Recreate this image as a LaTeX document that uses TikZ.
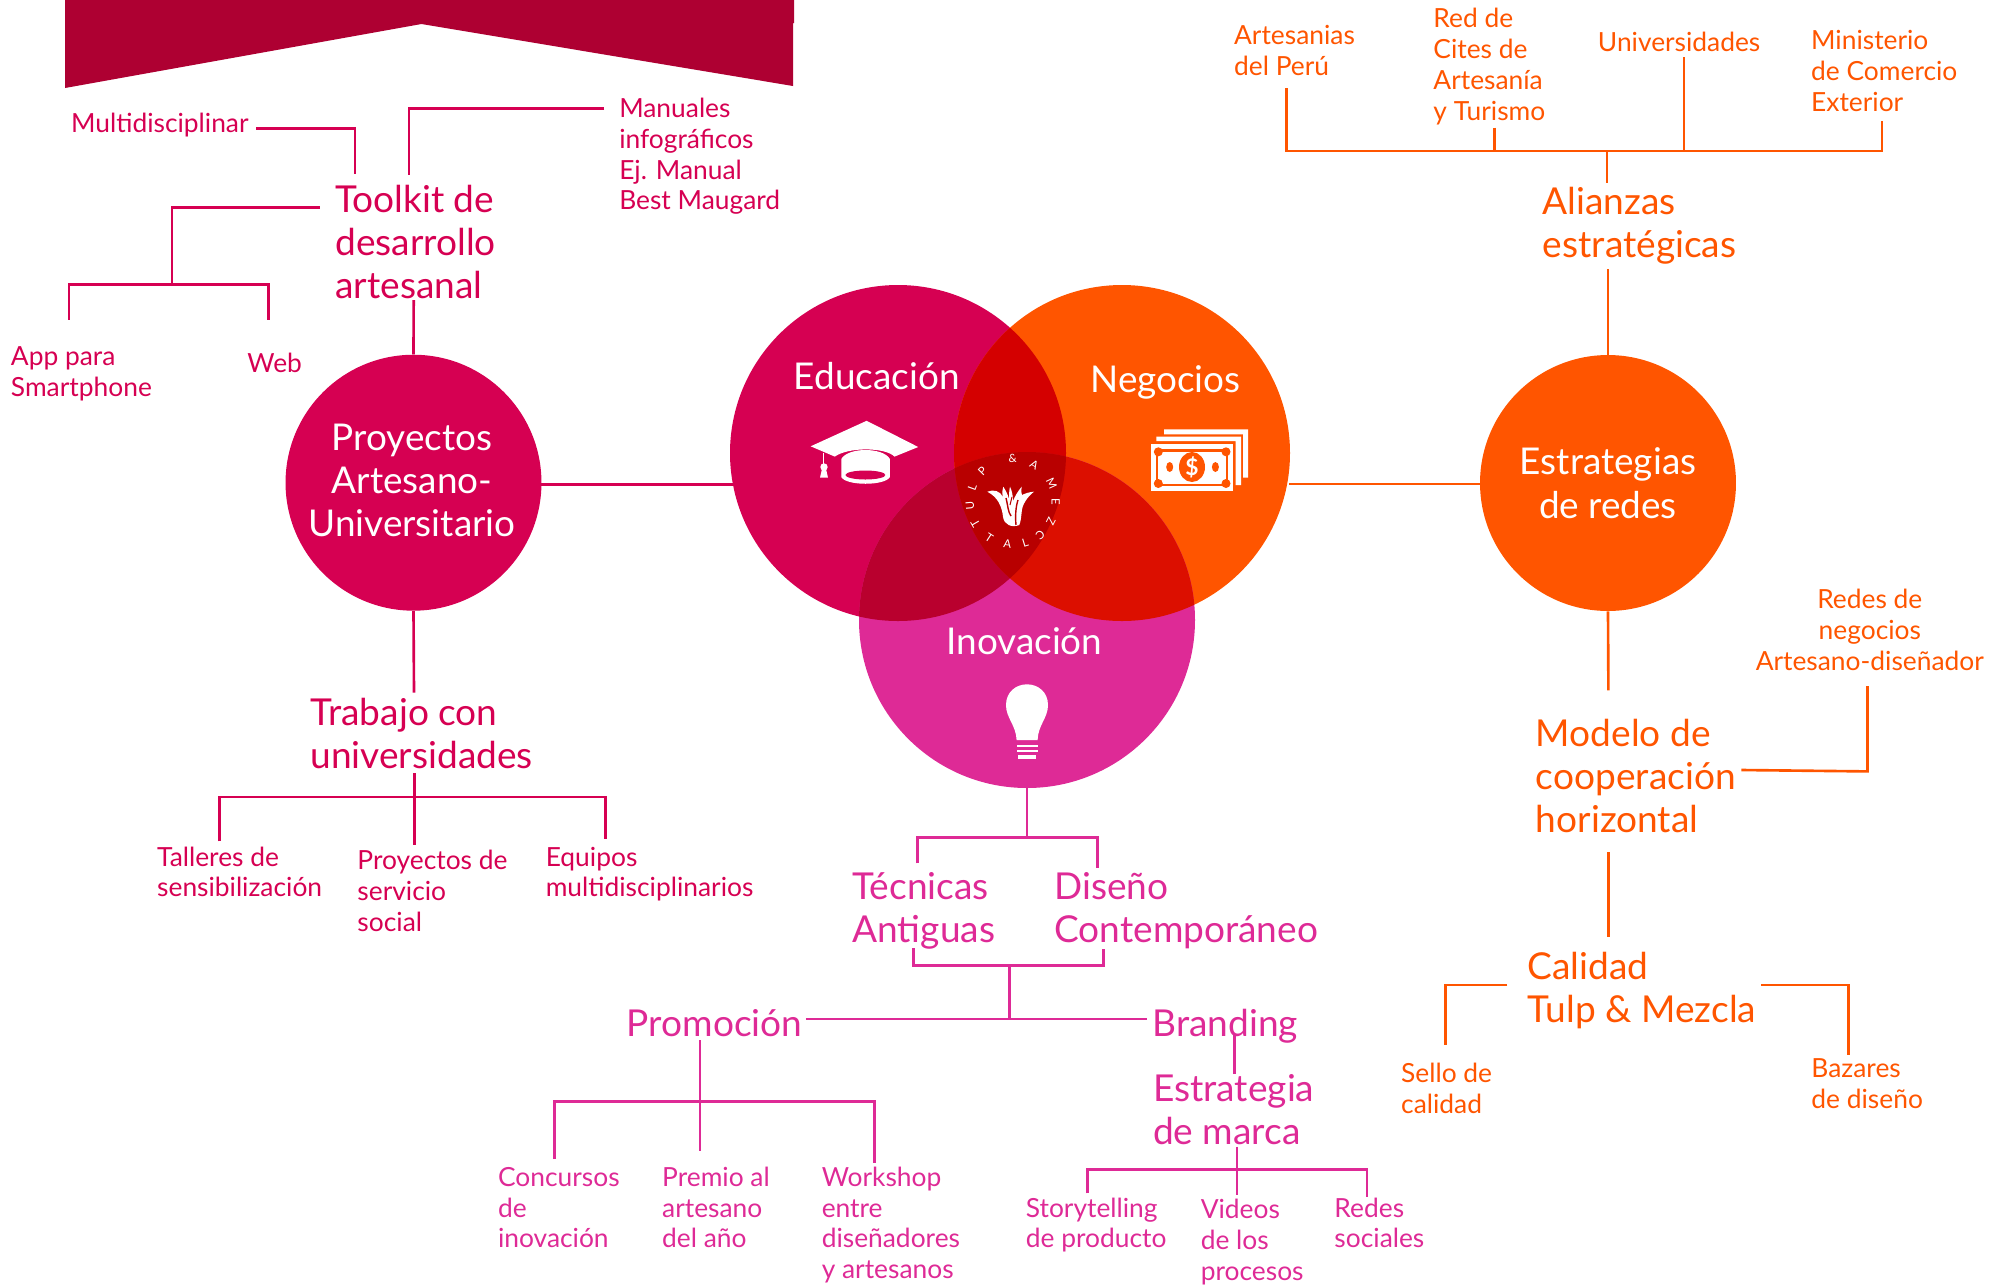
\documentclass[tikz,border=0pt]{standalone}
\usepackage{fontspec}
\setmainfont{Lato}
\definecolor{banner}{HTML}{AE0032}
\definecolor{pinkline}{HTML}{D60052}
\definecolor{orangeline}{HTML}{FF5500}
\definecolor{magentaline}{HTML}{DE2A96}
\definecolor{center}{HTML}{B80000}
\tikzset{big/.style = {anchor = base west, inner sep = 0, align = left, xshift = -0.5pt, yshift = -1.4pt, font = \fontsize{21.1}{24.5}\selectfont}}
\tikzset{small/.style = {anchor = base west, inner sep = 0, align = left, xshift = -0.5pt, yshift = -0.7pt, font = \fontsize{15}{17.5}\selectfont}}
\tikzset{title/.style = {anchor = base, inner sep = 0, text = white, align = center, font = \fontsize{21}{24.5}\selectfont}}
\tikzset{disc/.style = {circle, inner sep = 0, minimum size = 5.12cm}}
\tikzset{rama/.style = {line width = 1.5pt}}
\begin{document}
\begin{tikzpicture}[x=0.02cm, y=-0.02cm]
    \useasboundingbox (0, 0) rectangle (2009, 1286);
    \fill [banner] (65, 0) -- (794, 0) -- (794, 23) -- (793, 23) -- (793, 86) -- (421.5, 24) -- (65, 88) -- cycle;

    % Venn circles
    \fill [pinkline] (898, 453) circle [radius=168];
    \fill [orangeline] (1122, 453) circle [radius=168];
    \fill [magentaline] (1027, 620) circle [radius=168];
    \begin{scope}
        \clip (898, 453) circle [radius=168];
        \fill [color={rgb,255:red,212;green,0;blue,0}] (1122, 453) circle [radius=168];
        \fill [color={rgb,255:red,185;green,0;blue,46}] (1027, 620) circle [radius=168];
    \end{scope}
    \begin{scope}
        \clip (1122, 453) circle [radius=168];
        \fill [color={rgb,255:red,220;green,15;blue,0}] (1027, 620) circle [radius=168];
        \clip (898, 453) circle [radius=168];
        \fill [center] (1027, 620) circle [radius=168];
    \end{scope}
    \node [title] (educacion) at (876.7, 389.2) {Educación};
    \node [title] (negocios) at (1165.5, 392) {Negocios};
    \node [title] (inovacion) at (1024.4, 654.7) {Inovación};

    % Cap
    \fill [white] (866.6, 420.8) -- (918.2, 447) -- (894.5, 456.6) .. controls (885, 447) and (848, 447) .. (834.8, 456.6) -- (810.7, 446.3) -- cycle;
    \fill [white] (841.3, 459) .. controls (848, 447) and (883, 447) .. (889.9, 459) -- (889.9, 477) .. controls (885, 486) and (846, 486) .. (841.3, 477) -- cycle;
    \fill [pinkline] (865.4, 475) ellipse [x radius=20, y radius=4.5];
    \draw [white, line width=0.7pt] (823.3, 452.5) -- (823.3, 470);
    \fill [white] (824, 467) circle [radius=3.7];
    \fill [white] (822, 469) -- (826, 469) -- (828, 477.6) -- (820, 477.6) -- cycle;

    % Money
    \fill [white] (1156.3, 441.1) -- (1156.3, 436.7) -- (1241.2, 436.7) -- (1241.2, 485.2) -- (1235.5, 485.2) -- (1235.5, 441.1) -- cycle;
    \fill [white] (1164, 434.3) -- (1164, 429.4) -- (1248.2, 429.4) -- (1248.2, 477.6) -- (1243.2, 477.6) -- (1243.2, 434.3) -- cycle;
    \fill [white] (1151, 444) rectangle (1232.8, 490.5);
    \fill [orangeline] (1155.6, 449) rectangle (1228.2, 486.3);
    \fill [white] (1158.3, 451.8) rectangle (1226, 483.5);
    \foreach \bx in {1158.3, 1226} \foreach \by in {451.8, 483.5}
        \fill [orangeline] (\bx, \by) circle [radius=4.5];
    \fill [orangeline] (1192, 467) ellipse [x radius=13, y radius=15];
    \foreach \bx in {1169.7, 1215.4}
        \fill [orangeline] (\bx, 467) ellipse [x radius=3.5, y radius=5];
    \node [inner sep=0, text=white, font=\fontsize{13}{13}\selectfont\bfseries] (dolar) at (1192, 467) {\$};

    % Bulb
    \fill [white] (1016.6, 740) .. controls (1016, 725) and (1006, 718) .. (1006, 705) .. controls (1006, 692) and (1016, 684.3) .. (1027, 684.3) .. controls (1038, 684.3) and (1048, 692) .. (1048, 705) .. controls (1048, 718) and (1038, 725) .. (1037.6, 740) -- cycle;
    \fill [white] (1016.6, 744.5) rectangle (1037.6, 747.3);
    \fill [white] (1016.6, 749.7) rectangle (1037.6, 752.4);
    \fill [white] (1018, 754.5) rectangle (1036, 759);

    % Logo
    \fill [white] (987.3, 491.7) .. controls (994, 489) and (1000, 491) .. (1003, 497) .. controls (1002, 493) and (1002, 490) .. (1003.3, 486.7) .. controls (1006, 491) and (1008, 495) .. (1009, 499) .. controls (1009, 495) and (1009, 491) .. (1010, 486.7) .. controls (1012, 491) and (1013, 496) .. (1013, 501) .. controls (1015, 496) and (1018, 491) .. (1021.7, 486.7) .. controls (1021, 490) and (1021, 493) .. (1022, 495) .. controls (1026, 493) and (1030, 492) .. (1034, 491.7) .. controls (1027, 497) and (1022, 505) .. (1021.7, 512) .. controls (1021, 517) and (1021, 521) .. (1019.3, 525) .. controls (1012, 528) and (1004, 525) .. (1003, 516.7) .. controls (1002, 507) and (998, 497) .. (987.3, 491.7) -- cycle;
    \draw [center, line width=0.8pt] (1006, 498) .. controls (1008, 506) and (1008, 512) .. (1011, 516);
    \draw [center, line width=0.8pt] (1018, 500) .. controls (1016, 506) and (1015, 515) .. (1016, 525);
    \draw [center, line width=0.6pt] (1012, 497) -- (1010, 505);
    \foreach \ang/\rot/\letra in {210/120/T, 185/95/U, 160/70/L, 135/45/P, 90/0/\&, 60/-30/A, 25/-65/M, 0/-90/E, -27/-117/Z, -50/-140/C, -73/17/L, -97/-7/A, -123/-33/T}
        \node [inner sep=0, text=white, rotate=\rot, font=\fontsize{6.5}{7}\selectfont] at ([shift={({0-\ang}:43)}] 1012.7, 501.7) {\letra};

    % Side discs
    \node [disc, fill=pinkline] (proyectos) at (413.5, 482.7) {};
    \node [disc, fill=orangeline] (redes) at (1608, 483) {};
    \node [title] (proyectostxt) at (412, 536.3) {Proyectos\\Artesano-\\Universitario};
    \node [title] (redestxt) at (1608, 518) {Estrategias\\de redes};

    % Left branch
    \node [big, text=pinkline] (toolkit) at (335.8, 295.7) {Toolkit de\\desarrollo\\artesanal};
    \node [small, text=pinkline] (multi) at (71.6, 131.7) {Multidisciplinar};
    \node [small, text=pinkline] (manuales) at (619.8, 208.7) {Manuales\\infográficos\\Ej. Manual\\Best Maugard};
    \node [small, text=pinkline] (app) at (11.5, 395) {App para\\Smartphone};
    \node [small, text=pinkline] (web) at (248, 371.7) {Web};
    \node [big, text=pinkline] (trabajo) at (311, 765.7) {Trabajo con\\universidades};
    \node [small, text=pinkline] (talleres) at (157.7, 895.7) {Talleres de\\sensibilización};
    \node [small, text=pinkline] (servicio) at (358, 930) {Proyectos de\\servicio\\social};
    \node [small, text=pinkline] (equipos) at (546.3, 895.7) {Equipos\\multidisciplinarios};
    \begin{scope}[rama, pinkline]
        \draw (256, 128.3) -- (355, 128.3) -- (355, 173.7);
        \draw (604, 108.3) -- (409, 108.3) -- (409, 174.7);
        \draw (319.6, 207.3) -- (172, 207.3) -- (172, 284.3);
        \draw (69, 319.7) -- (69, 284.3) -- (268.3, 284.3) -- (268.3, 319.7);
        \draw (413.7, 300) -- (proyectos.north);
        \draw (proyectos.south) -- (414, 692.7);
        \draw (414.4, 773.3) -- (414.4, 845);
        \draw (219.4, 841.3) -- (219.4, 797) -- (605.5, 797) -- (605.5, 839.3);
        \draw (541, 484.3) -- (733, 484.3);
    \end{scope}

    % Right branch
    \node [big, text=orangeline] (alianzas) at (1543.4, 254.7) {Alianzas\\estratégicas};
    \node [small, text=orangeline] (artesanias) at (1234.7, 74) {Artesanias\\del Perú};
    \node [small, text=orangeline] (cites) at (1434, 119) {Red de\\Cites de\\Artesanía\\y Turismo};
    \node [small, text=orangeline] (univ) at (1598.5, 50) {Universidades};
    \node [small, text=orangeline] (ministerio) at (1811.7, 110) {Ministerio\\de Comercio\\Exterior};
    \node [big, text=orangeline] (modelo) at (1536.5, 830.4) {Modelo de\\cooperación\\horizontal};
    \node [small, text=orangeline, anchor=base, align=center] (negred) at (1870.7, 669) {Redes de\\negocios\\Artesano-diseñador};
    \node [big, text=orangeline] (calidad) at (1528.3, 1019.6) {Calidad\\Tulp \& Mezcla};
    \node [small, text=orangeline] (sello) at (1401.7, 1111.8) {Sello de\\calidad};
    \node [small, text=orangeline] (bazares) at (1812, 1107) {Bazares\\de diseño};
    \begin{scope}[rama, orangeline]
        \draw (1286.2, 88.3) -- (1286.2, 151) -- (1882, 151) -- (1882, 120.7);
        \draw (1494.4, 127.7) -- (1494.4, 151);
        \draw (1684, 57.3) -- (1684, 151);
        \draw (1607, 151) -- (1607, 183.3);
        \draw (1608, 269.3) -- (redes.north);
        \draw (redes.south) -- (1608.4, 690.4);
        \draw (1741.4, 770) -- (1867.5, 771.4) -- (1867.5, 686);
        \draw (1608.4, 852) -- (1608.4, 936.8);
        \draw (1507.3, 985) -- (1445.2, 985) -- (1445.2, 1045);
        \draw (1761, 985) -- (1848.6, 985) -- (1848.6, 1055);
        \draw (1289, 484) -- (1481, 484);
    \end{scope}

    % Bottom branch
    \node [big, text=magentaline] (tecnicas) at (853, 939.7) {Técnicas\\Antiguas};
    \node [big, text=magentaline] (diseno) at (1054.9, 939.7) {Diseño\\Contemporáneo};
    \node [big, text=magentaline] (promocion) at (627.5, 1033.7) {Promoción};
    \node [big, text=magentaline] (branding) at (1153, 1033.7) {Branding};
    \node [big, text=magentaline] (estrategia) at (1153.6, 1141.7) {Estrategia\\de marca};
    \node [small, text=magentaline] (concursos) at (498.6, 1246.7) {Concursos\\de\\inovación};
    \node [small, text=magentaline] (premio) at (662.7, 1246.7) {Premio al\\artesano\\del año};
    \node [small, text=magentaline] (workshop) at (822.3, 1277.3) {Workshop\\entre\\diseñadores\\y artesanos};
    \node [small, text=magentaline] (story) at (1026.4, 1246.7) {Storytelling\\de producto};
    \node [small, text=magentaline] (videos) at (1201.3, 1279) {Videos\\de los\\procesos};
    \node [small, text=magentaline] (sociales) at (1335, 1246.7) {Redes\\sociales};
    \begin{scope}[rama, magentaline]
        \draw (1027, 787) -- (1027, 837.7);
        \draw (917.7, 863.3) -- (917.7, 837.7) -- (1097.7, 837.7) -- (1097.7, 867.7);
        \draw (913.3, 948.3) -- (913.3, 965.3) -- (1103.7, 965.3) -- (1103.7, 949.3);
        \draw (1009.3, 965.3) -- (1009.3, 1019);
        \draw (805.8, 1019) -- (1147, 1019);
        \draw (700, 1040) -- (700, 1150.7);
        \draw (554.6, 1159) -- (554.6, 1101.3) -- (874.4, 1101.3) -- (874.4, 1162.7);
        \draw (1234.3, 1035.3) -- (1234.3, 1074);
        \draw (1237, 1146.7) -- (1237, 1195);
        \draw (1087.2, 1193.3) -- (1087.2, 1169.3) -- (1367, 1169.3) -- (1367, 1196.5);
    \end{scope}
\end{tikzpicture}
\end{document}
